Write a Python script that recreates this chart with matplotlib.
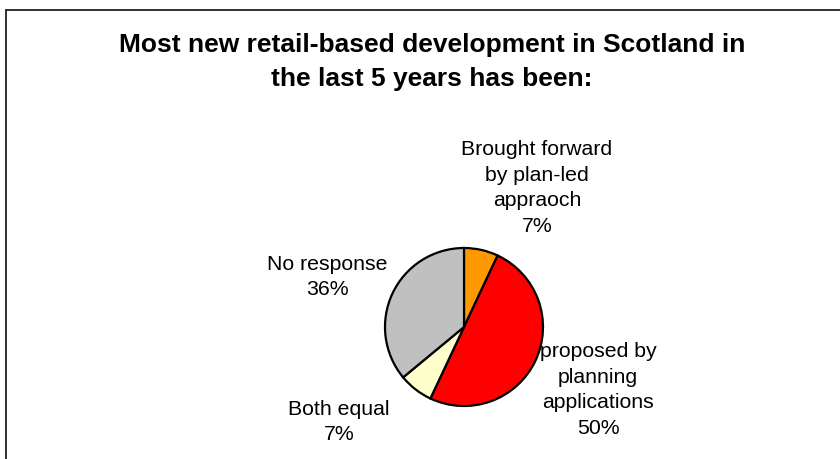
import matplotlib
matplotlib.use("Agg")
import matplotlib.pyplot as plt
from matplotlib.patches import Rectangle

categories = ["Brought forward\nby plan-led\nappraoch", "proposed by\nplanning\napplications",
              "Both equal", "No response"]
values = [7, 50, 7, 36]
colors = ["#FF9900", "#FF0000", "#FFFFCC", "#C0C0C0"]
title = "Most new retail-based development in Scotland in\nthe last 5 years has been:"

W, H = 840, 459
fig = plt.figure(figsize=(W / 100, H / 100), dpi=100)
ax = fig.add_axes([0, 0, 1, 1])

plt.rcParams["font.family"] = ["Liberation Sans", "DejaVu Sans"]

# chart frame
fig.patches.append(Rectangle((6 / W, -0.1), 1.2, (H - 10) / H + 0.1, transform=fig.transFigure,
                             fill=False, edgecolor="#222222", linewidth=1.3))

cx, cy, r = 464, H - 327, 79
ax.pie(values, colors=colors, startangle=90, counterclock=False, center=(cx, cy), radius=r,
       wedgeprops=dict(edgecolor="black", linewidth=1.6), frame=True)
ax.set_xlim(0, W)
ax.set_ylim(0, H)
ax.set_aspect("equal")
ax.axis("off")

label_pos = [(537, 188), (598, 390), (339, 422), (327, 277)]
for lab, v, (px, py) in zip(categories, values, label_pos):
    ax.text(px, H - py, f"{lab}\n{v}%", ha="center", va="center", fontsize=15.3,
            linespacing=1.45, family="Liberation Sans")

ax.text(432, H - 62, title, ha="center", va="center", fontsize=19, fontweight="bold",
        linespacing=1.52, family="Liberation Sans")

fig.savefig("out.png", dpi=100)
